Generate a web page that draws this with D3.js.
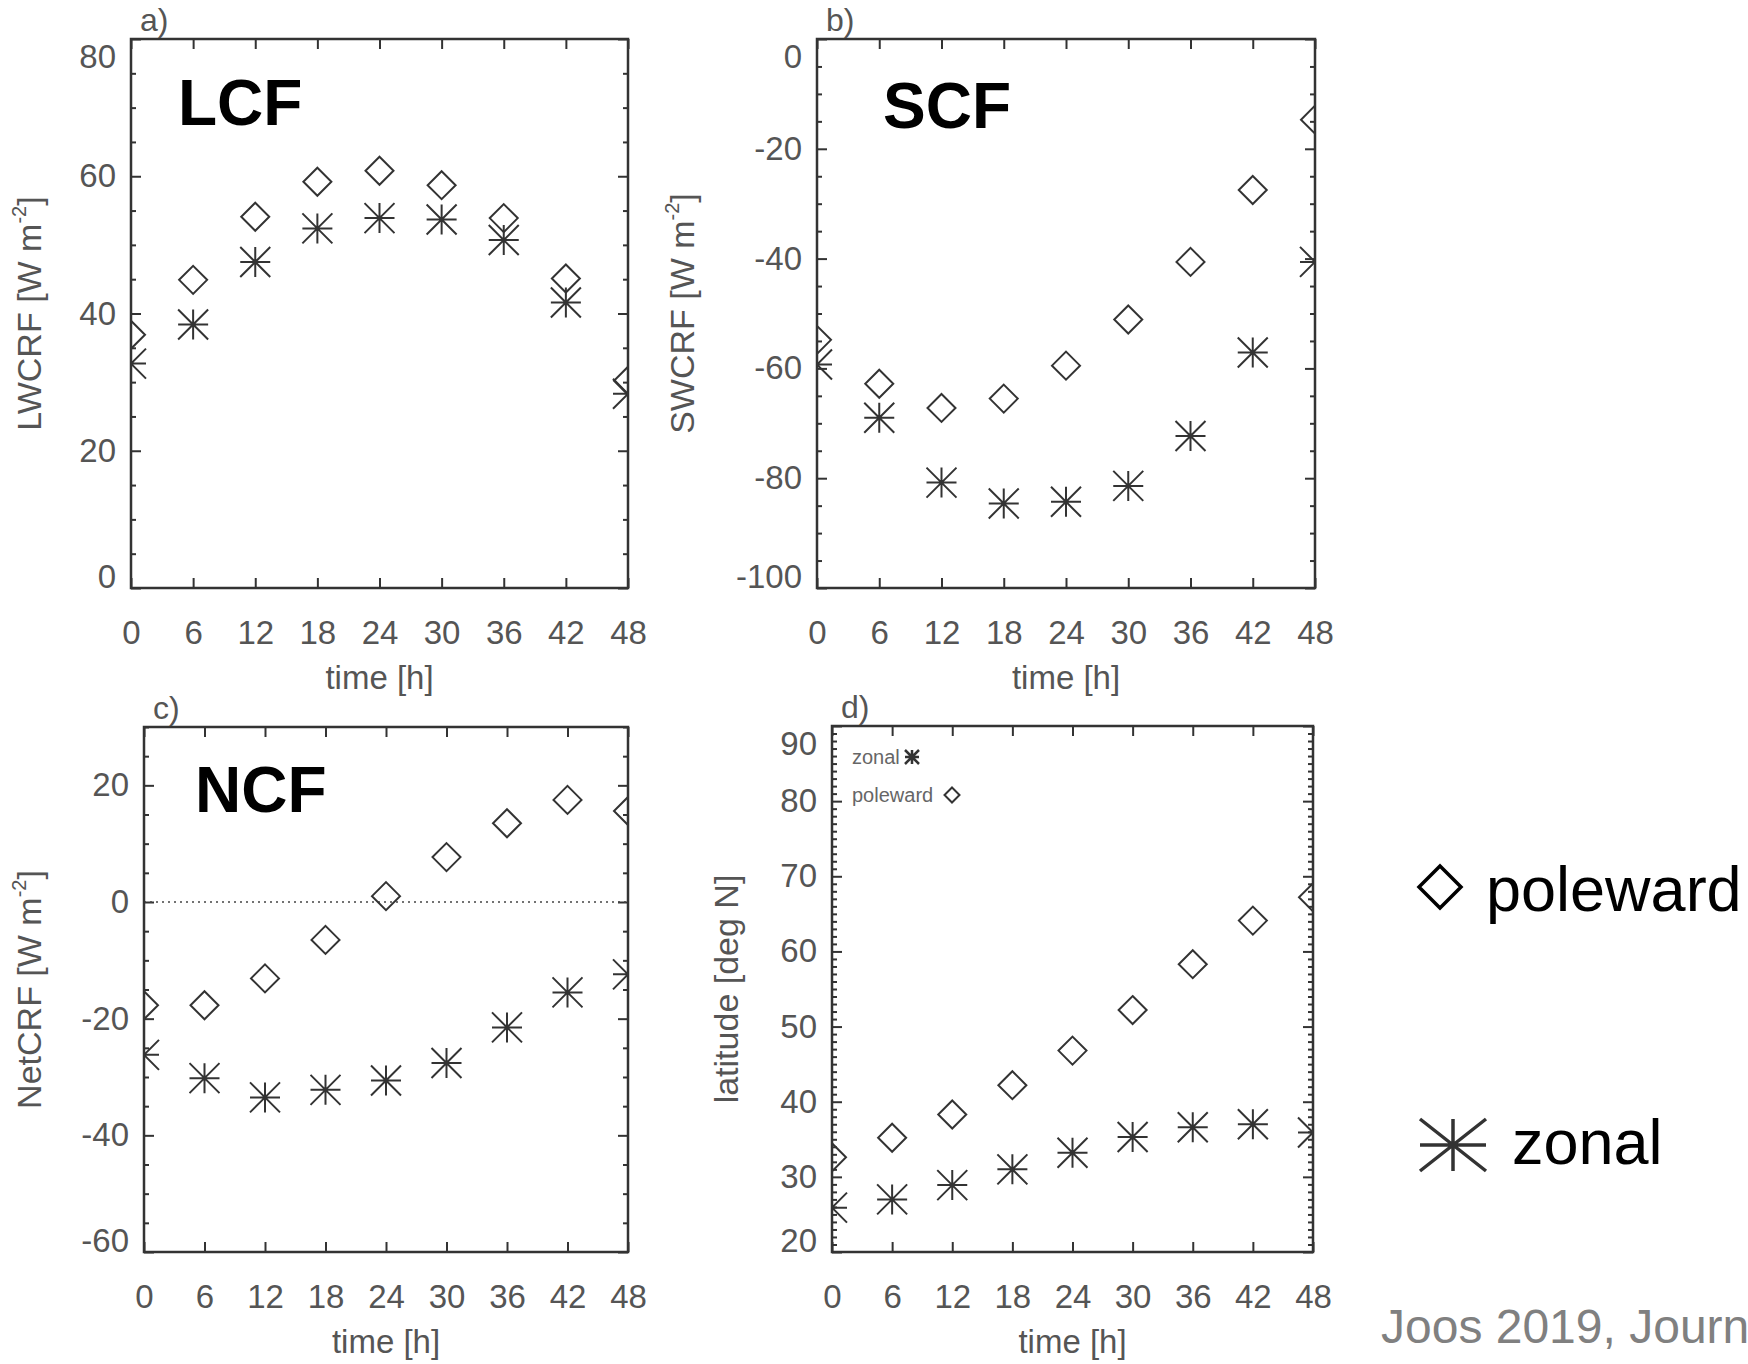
<!DOCTYPE html>
<html>
<head>
<meta charset="utf-8">
<script src="https://cdn.jsdelivr.net/npm/d3@7"></script>
<style>
  body { margin: 0; background: #fff; }
  svg { display: block; font-family: "Liberation Sans", Arial, Helvetica, sans-serif; }
</style>
</head>
<body>
<script>
// Time after genesis [h], same for all four panels
const hours = [0, 6, 12, 18, 24, 30, 36, 42, 48];
const xTicks = [0, 6, 12, 18, 24, 30, 36, 42, 48];

// a) long wave cloud radiative forcing [W m-2]
const lwcrfPoleward = [36.9, 44.9, 54.1, 59.2, 60.8, 58.7, 53.9, 45.1, 30.2];
const lwcrfZonal    = [32.7, 38.4, 47.5, 52.4, 53.9, 53.7, 50.7, 41.6, 28.3];

// b) short wave cloud radiative forcing [W m-2]
const swcrfPoleward = [-54.8, -62.8, -67.2, -65.5, -59.5, -51.1, -40.6, -27.5, -14.7];
const swcrfZonal    = [-59.3, -69.0, -80.8, -84.6, -84.3, -81.4, -72.3, -57.1, -40.6];

// c) net cloud radiative forcing [W m-2]
const netcrfPoleward = [-17.7, -17.7, -13.1, -6.5, 1.0, 7.7, 13.5, 17.5, 15.6];
const netcrfZonal    = [-26.2, -30.2, -33.5, -32.2, -30.6, -27.6, -21.5, -15.5, -12.4];

// d) cyclone latitude [deg N]
const latPoleward = [32.6, 35.2, 38.3, 42.2, 46.8, 52.2, 58.3, 64.1, 67.2];
const latZonal    = [25.9, 27.0, 28.9, 31.0, 33.2, 35.3, 36.6, 37.0, 35.9];

const W = 1748, H = 1364;
const ink = "#333", grey = "#555";

// panel layout + what goes in it
const panels = [
  { id: "a)", tag: "LCF", tagPos: [47, 86], title: ["LWCRF [W m", "-2", "]"], titleX: -90,
    box: { x: 131, y: 39, w: 497, h: 549 }, yDomain: [0, 80], yTicks: [0, 20, 40, 60, 80], minorStep: 5,
    pole: lwcrfPoleward, zonal: lwcrfZonal },
  { id: "b)", tag: "SCF", tagPos: [66, 89], title: ["SWCRF [W m", "-2", "]"], titleX: -123,
    box: { x: 817, y: 39, w: 498, h: 549 }, yDomain: [-100, 0], yTicks: [-100, -80, -60, -40, -20, 0], minorStep: 5,
    pole: swcrfPoleward, zonal: swcrfZonal },
  { id: "c)", tag: "NCF", tagPos: [51, 85], title: ["NetCRF [W m", "-2", "]"], titleX: -103,
    box: { x: 144, y: 727, w: 484, h: 525 }, yDomain: [-60, 30], yTicks: [-60, -40, -20, 0, 20], minorStep: 5,
    pole: netcrfPoleward, zonal: netcrfZonal, zeroLine: true },
  { id: "d)", tag: null, title: ["latitude [deg N]"], titleX: -94,
    box: { x: 832, y: 726, w: 481, h: 526 }, yDomain: [20, 90], yTicks: [20, 30, 40, 50, 60, 70, 80, 90], minorStep: 1,
    pole: latPoleward, zonal: latZonal, innerLegend: true }
];

const diamond = r => `M0,${-r}L${r},0L0,${r}L${-r},0Z`;
const star = (rx, ry) => `M${-rx},0H${rx}M0,${-ry}V${ry}M${-rx},${-ry}L${rx},${ry}M${-rx},${ry}L${rx},${-ry}`;
const plain = d => String(d); // keep the plain hyphen minus

const svg = d3.select("body")
  .append("svg")
  .attr("width", W)
  .attr("height", H);

const defs = svg.append("defs");

function styleAxis(sel) {
  sel.select(".domain").remove();
  sel.selectAll(".tick line").attr("stroke", ink).attr("stroke-width", 2);
  sel.selectAll(".tick text")
    .attr("fill", grey)
    .style("font-size", "33px")
    .style("font-family", "'Liberation Sans', Arial, sans-serif");
}

panels.forEach((p, i) => {
  const { x: bx, y: by, w, h } = p.box;
  const g = svg.append("g").attr("transform", `translate(${bx},${by})`);

  const x = d3.scaleLinear().domain([0, 48]).range([0, w]);
  const y = d3.scaleLinear().domain(p.yDomain).range([h, 0]);

  const minor = d3.range(p.yDomain[0], p.yDomain[1] + 1e-6, p.minorStep)
    .filter(v => !p.yTicks.includes(v));

  // minor y ticks, both sides
  g.append("g")
    .call(d3.axisLeft(y).tickValues(minor).tickSize(-5).tickFormat(""))
    .call(styleAxis);
  g.append("g")
    .attr("transform", `translate(${w},0)`)
    .call(d3.axisRight(y).tickValues(minor).tickSize(-5).tickFormat(""))
    .call(styleAxis);

  // major y ticks with labels on the left
  const [ymin, ymax] = p.yDomain;
  g.append("g")
    .call(d3.axisLeft(y).tickValues(p.yTicks).tickSize(-10).tickPadding(15).tickFormat(plain))
    .call(styleAxis)
    .selectAll(".tick text")
    .attr("y", d => d === ymax ? 18 : d === ymin ? -11 : 0);
  g.append("g")
    .attr("transform", `translate(${w},0)`)
    .call(d3.axisRight(y).tickValues(p.yTicks).tickSize(-10).tickFormat(""))
    .call(styleAxis);

  // x ticks top and bottom
  g.append("g")
    .attr("transform", `translate(0,${h})`)
    .call(d3.axisBottom(x).tickValues(xTicks).tickSize(-10).tickPadding(33).tickFormat(plain))
    .call(styleAxis);
  g.append("g")
    .call(d3.axisTop(x).tickValues(xTicks).tickSize(-10).tickFormat(""))
    .call(styleAxis);

  // zero line (panel c)
  if (p.zeroLine) {
    g.append("line")
      .attr("x1", 0).attr("x2", w)
      .attr("y1", y(0)).attr("y2", y(0))
      .attr("stroke", "#444")
      .attr("stroke-width", 1.5)
      .attr("stroke-dasharray", "2,4");
  }

  // markers, clipped to the frame
  defs.append("clipPath").attr("id", `clip${i}`)
    .append("rect").attr("width", w).attr("height", h);
  const marks = g.append("g").attr("clip-path", `url(#clip${i})`);

  marks.selectAll(".pole")
    .data(hours.map((t, k) => ({ t, v: p.pole[k] })))
    .enter()
    .append("path")
    .attr("transform", d => `translate(${x(d.t)},${y(d.v)})`)
    .attr("d", diamond(14))
    .attr("fill", "none")
    .attr("stroke", ink)
    .attr("stroke-width", 2);

  marks.selectAll(".zonal")
    .data(hours.map((t, k) => ({ t, v: p.zonal[k] })))
    .enter()
    .append("path")
    .attr("transform", d => `translate(${x(d.t)},${y(d.v)})`)
    .attr("d", star(15, 15))
    .attr("fill", "none")
    .attr("stroke", ink)
    .attr("stroke-width", 2);

  // frame
  g.append("rect")
    .attr("width", w)
    .attr("height", h)
    .attr("fill", "none")
    .attr("stroke", ink)
    .attr("stroke-width", 2.5);

  // panel letter
  g.append("text")
    .attr("x", 9)
    .attr("y", -8)
    .attr("fill", grey)
    .style("font-size", "32px")
    .text(p.id);

  // big bold tag
  if (p.tag) {
    g.append("text")
      .attr("x", p.tagPos[0])
      .attr("y", p.tagPos[1])
      .attr("fill", "#000")
      .style("font-size", "64px")
      .style("font-weight", "bold")
      .text(p.tag);
  }

  // x title
  g.append("text")
    .attr("x", w / 2)
    .attr("y", h + 101)
    .attr("text-anchor", "middle")
    .attr("fill", grey)
    .style("font-size", "33px")
    .text("time [h]");

  // y title (rotated, with superscript)
  const yt = g.append("text")
    .attr("transform", `translate(${p.titleX},${h / 2}) rotate(-90)`)
    .attr("text-anchor", "middle")
    .attr("fill", grey)
    .style("font-size", "34px");
  yt.append("tspan").text(p.title[0]);
  if (p.title.length > 1) {
    yt.append("tspan").attr("dy", -15).style("font-size", "20px").text(p.title[1]);
    yt.append("tspan").attr("dy", 15).text(p.title[2]);
  }

  // small legend inside panel d
  if (p.innerLegend) {
    g.append("text").attr("x", 20).attr("y", 38).attr("fill", "#666")
      .style("font-size", "20px").text("zonal");
    g.append("path").attr("transform", "translate(80,31)").attr("d", star(7, 7))
      .attr("fill", "none").attr("stroke", ink).attr("stroke-width", 2.5);
    g.append("text").attr("x", 20).attr("y", 76).attr("fill", "#666")
      .style("font-size", "20px").text("poleward");
    g.append("path").attr("transform", "translate(120,69)").attr("d", diamond(7.5))
      .attr("fill", "none").attr("stroke", ink).attr("stroke-width", 2);
  }
});

// big legend on the right
svg.append("path")
  .attr("transform", "translate(1440,887)")
  .attr("d", diamond(21))
  .attr("fill", "none")
  .attr("stroke", "#000")
  .attr("stroke-width", 3.5);
svg.append("text")
  .attr("x", 1486)
  .attr("y", 911)
  .attr("fill", "#000")
  .style("font-size", "63px")
  .text("poleward");

svg.append("path")
  .attr("transform", "translate(1453,1145)")
  .attr("d", star(33, 26))
  .attr("fill", "none")
  .attr("stroke", ink)
  .attr("stroke-width", 3.5);
svg.append("text")
  .attr("x", 1512)
  .attr("y", 1164)
  .attr("fill", "#000")
  .style("font-size", "63px")
  .text("zonal");

// source note, as far as it is visible
svg.append("text")
  .attr("x", 1381)
  .attr("y", 1343)
  .attr("fill", "#808080")
  .style("font-size", "48px")
  .text("Joos 2019, Journ");
</script>
</body>
</html>
